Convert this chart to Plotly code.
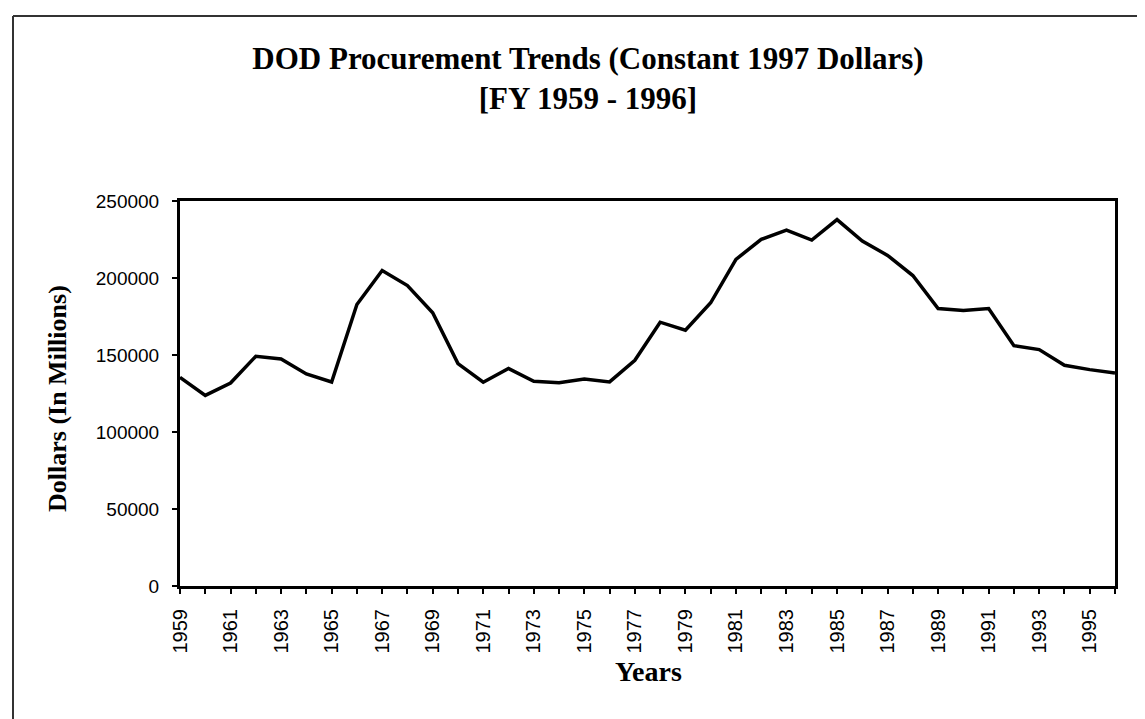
import plotly.graph_objects as go

years = list(range(1959, 1997))
procurement = [
    135500, 123800, 131800, 149200, 147400, 137700, 132500, 182800, 204900, 195100,
    177400, 144400, 132300, 141200, 132900, 132000, 134400, 132500, 146600, 171300,
    166100, 183900, 212100, 225100, 231100, 224600, 237900, 224000, 214700, 201600,
    180200, 178900, 180200, 156100, 153500, 143300, 140500, 138300,
]
y_ticks = [0, 50000, 100000, 150000, 200000, 250000]
x_ticks = list(range(1959, 1997, 2))

title_text = "DOD Procurement Trends (Constant 1997 Dollars)<br>[FY 1959 - 1996]"
y_title = "Dollars (In Millions)"
x_title = "Years"

serif = "Liberation Serif, Times New Roman, serif"
sans = "Liberation Sans, Arial, sans-serif"

fig = go.Figure()
fig.add_trace(go.Scatter(
    x=years, y=procurement, mode="lines",
    line=dict(color="black", width=3.5),
    showlegend=False, hoverinfo="x+y",
))

W, H = 1145, 719
L, R, T, B = 172, 38, 193, 141
pw, ph = W - L - R, H - T - B

def px_to_paper_x(px):
    return (px - L) / pw

def px_to_paper_y(py):
    return (H - B - py) / ph

fig.update_layout(
    width=W, height=H, autosize=False,
    margin=dict(l=L, r=R, t=T, b=B, pad=0),
    paper_bgcolor="white", plot_bgcolor="white",
    title=dict(
        text=title_text,
        font=dict(family=serif, size=31, color="black", weight="bold"),
        xref="container", x=580 / W, xanchor="center",
        yref="container", y=1 - 61 / H, yanchor="middle",
    ),
    xaxis=dict(
        range=[1959, 1996], tickmode="array", tickvals=x_ticks,
        ticktext=[str(v) for v in x_ticks], tickangle=-90,
        ticks="outside", ticklen=5, tickwidth=1.5, tickcolor="black",
        minor=dict(tickmode="linear", tick0=1959, dtick=1, ticks="outside",
                   ticklen=5, tickwidth=1.5, tickcolor="black"),
        showline=True, linecolor="black", linewidth=3, mirror=True,
        showgrid=False, zeroline=False,
        tickfont=dict(family=sans, size=20, color="black"),
        ticklabelstandoff=7,
    ),
    yaxis=dict(
        range=[0, 250000], tickmode="array", tickvals=y_ticks,
        ticktext=[str(v) for v in y_ticks],
        ticks="outside", ticklen=5, tickwidth=1.5, tickcolor="black",
        showline=True, linecolor="black", linewidth=3, mirror=True,
        showgrid=False, zeroline=False,
        tickfont=dict(family=sans, size=19, color="black"),
        ticklabelstandoff=9,
    ),
    annotations=[
        dict(text=y_title, textangle=-90, showarrow=False,
             xref="paper", yref="paper", x=px_to_paper_x(49), y=px_to_paper_y(390),
             xanchor="center", yanchor="middle",
             font=dict(family=serif, size=26, color="black", weight="bold")),
        dict(text=x_title, showarrow=False,
             xref="paper", yref="paper", x=px_to_paper_x(640), y=px_to_paper_y(663),
             xanchor="center", yanchor="middle",
             font=dict(family=serif, size=28, color="black", weight="bold")),
    ],
    shapes=[
        dict(type="line", xref="paper", yref="paper",
             x0=px_to_paper_x(5), x1=px_to_paper_x(1160),
             y0=px_to_paper_y(8), y1=px_to_paper_y(8),
             line=dict(color="#333333", width=2)),
        dict(type="line", xref="paper", yref="paper",
             x0=px_to_paper_x(5), x1=px_to_paper_x(5),
             y0=px_to_paper_y(8), y1=px_to_paper_y(740),
             line=dict(color="#333333", width=2)),
    ],
)

fig.write_html("out.html")
